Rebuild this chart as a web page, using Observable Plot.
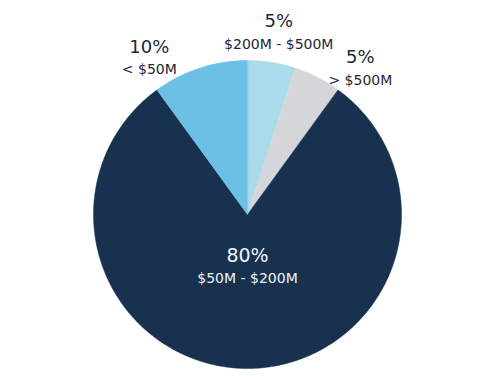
<!DOCTYPE html>
<html>
<head>
<meta charset="utf-8">
<script src="https://cdn.jsdelivr.net/npm/d3@7"></script>
<script src="https://cdn.jsdelivr.net/npm/@observablehq/plot@0.6"></script>
<style>
  html, body { margin: 0; padding: 0; background: #ffffff; }
  #chart svg { display: block; }
</style>
</head>
<body>
<div id="chart"></div>
<script>
// Data (slices clockwise from 12 o'clock)
const categories = ["$200M - $500M", "> $500M", "$50M - $200M", "< $50M"];
const shares = [5, 5, 80, 10];

// Palette (style, not data)
const palette = ["#a9dbea", "#d4d6da", "#17314f", "#6cc0e5"];

const rows = categories.map((category, i) => ({category, share: shares[i]}));
const arcs = d3.pie().sort(null).value(d => d.share)(rows);

// Build slice outlines in unit-circle coordinates (y up)
const slicePoints = [];
for (const a of arcs) {
  const steps = Math.max(2, Math.ceil((a.endAngle - a.startAngle) / (Math.PI / 180)));
  slicePoints.push({category: a.data.category, x: 0, y: 0});
  for (let k = 0; k <= steps; ++k) {
    const t = a.startAngle + (a.endAngle - a.startAngle) * k / steps;
    slicePoints.push({category: a.data.category, x: Math.sin(t), y: Math.cos(t)});
  }
}

// Label anchors: inside for the dominant slice, outside (spread apart) for the small ones
const norm = t => (t > Math.PI ? t - 2 * Math.PI : t);
const a0 = norm((arcs[0].startAngle + arcs[0].endAngle) / 2);
const labels = arcs.map(a => {
  const mid = norm((a.startAngle + a.endAngle) / 2);
  const inside = a.data.share >= 50;
  const ang = inside ? mid : a0 * 0.85 + (mid - a0 * 0.85) * 1.55;
  const r = inside ? 0.34 : 1.2;
  return {
    category: a.data.category,
    pct: `${a.data.share}%`,
    inside,
    x: r * Math.sin(ang),
    y: r * Math.cos(ang)
  };
});
const outside = labels.filter(d => !d.inside);
const inner = labels.filter(d => d.inside);

const font = "DejaVu Sans, sans-serif";
const dark = "#1e2733";
const light = "#eef3f8";

const chart = Plot.plot({
  width: 501,
  height: 376,
  marginLeft: 93,
  marginRight: 100,
  marginTop: 60,
  marginBottom: 8,
  x: {domain: [-1, 1], axis: null},
  y: {domain: [-1, 1], axis: null},
  color: {domain: categories, range: palette},
  style: {fontFamily: font, background: "#ffffff"},
  marks: [
    Plot.line(slicePoints, {
      x: "x", y: "y", z: "category",
      fill: "category", stroke: "category", strokeWidth: 0.5,
      curve: "linear-closed"
    }),
    Plot.text(outside, {x: "x", y: "y", text: "pct", dy: -11, fontSize: 18, fill: dark, fontFamily: font}),
    Plot.text(outside, {x: "x", y: "y", text: "category", dy: 12, fontSize: 14, fill: dark, fontFamily: font}),
    Plot.text(inner, {x: "x", y: "y", text: "pct", dy: -11, fontSize: 19, fill: light, fontFamily: font}),
    Plot.text(inner, {x: "x", y: "y", text: "category", dy: 12, fontSize: 14, fill: light, fontFamily: font})
  ]
});

document.getElementById("chart").appendChild(chart);
</script>
</body>
</html>
